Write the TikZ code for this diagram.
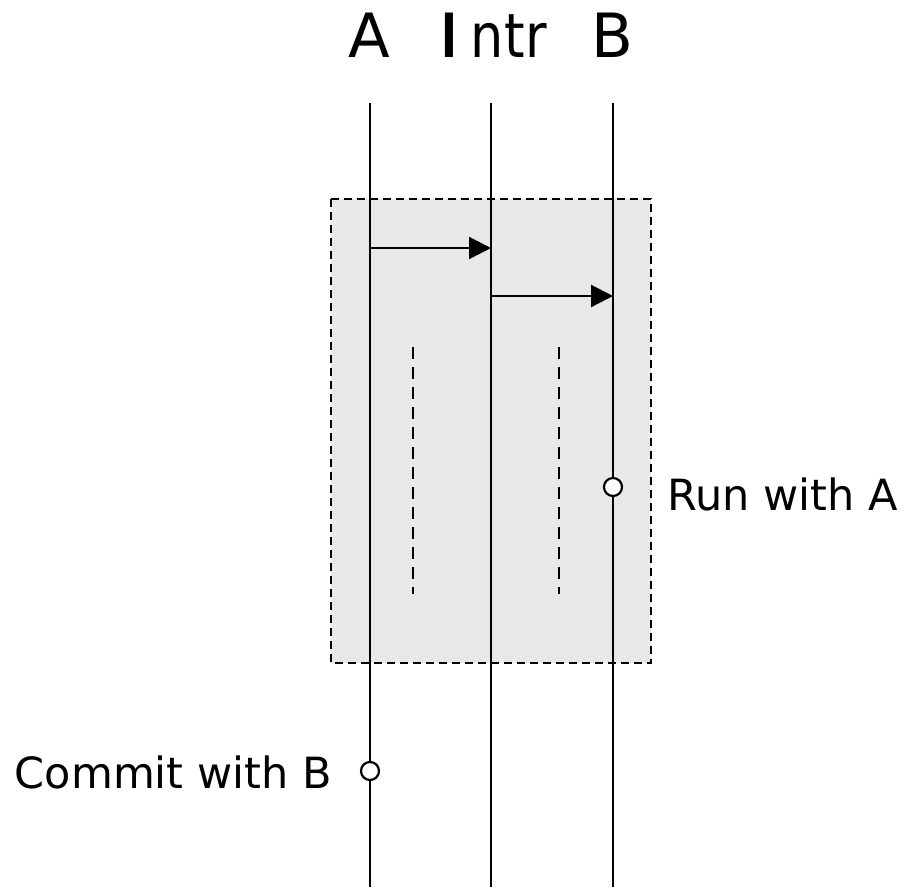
\documentclass[tikz,border=0pt]{standalone}
\usepackage{graphicx}
\usepackage{fontspec}
\setmainfont{DejaVu Sans}
\usetikzlibrary{arrows.meta}
\begin{document}
\begin{tikzpicture}[x=1pt,y=-1pt,
  life/.style={line width=2.2pt},
  msg/.style={line width=2.2pt,-{Triangle[length=22pt,width=22pt]}},
  region/.style={draw,dashed,dash pattern=on 8pt off 5pt,line width=2.2pt,fill=black!9},
  gap/.style={dashed,dash pattern=on 12pt off 8pt,line width=2.2pt},
  event/.style={circle,draw,fill=white,line width=2.2pt,minimum size=18pt,inner sep=0pt},
  head/.style={font=\fontsize{61}{64}\selectfont,inner sep=0pt,anchor=base},
  note/.style={font=\fontsize{43}{46}\selectfont,inner sep=0pt}]
\useasboundingbox (0,0) rectangle (910,887);
% shaded region
\draw[region] (331,199) rectangle (651,663);
% lifelines
\coordinate (At) at (370,103); \coordinate (Ab) at (370,887);
\coordinate (It) at (491,103); \coordinate (Ib) at (491,887);
\coordinate (Bt) at (613,103); \coordinate (Bb) at (613,887);
\draw[life] (At) -- (Ab);
\draw[life] (It) -- (Ib);
\draw[life] (Bt) -- (Bb);
% headers
\node[head] (hA) at (369,57) {A};
\node[head,anchor=base west] (hI) at (441,57) {\scalebox{0.7}[1]{\textbf{I}}\hspace{13pt}\scalebox{0.86}[1]{n\hspace{1pt}t\hspace{1pt}r}};
\node[head] (hB) at (612,57) {B};
% messages
\coordinate (m1s) at (370,248); \coordinate (m1e) at (491,248);
\coordinate (m2s) at (491,296); \coordinate (m2e) at (613,296);
\draw[msg] (m1s) -- (m1e);
\draw[msg] (m2s) -- (m2e);
% elided activity
\coordinate (g1t) at (413,347); \coordinate (g1b) at (413,594);
\coordinate (g2t) at (559,347); \coordinate (g2b) at (559,594);
\draw[gap] (g1t) -- (g1b);
\draw[gap] (g2t) -- (g2b);
% events
\node[event] (eB) at (613,487) {};
\node[event] (eA) at (370,771) {};
\node[note,anchor=base west] (lB) at (667,510) {Run with A};
\node[note,anchor=base east] (lA) at (332,788) {Commit with B};
\end{tikzpicture}
\end{document}
